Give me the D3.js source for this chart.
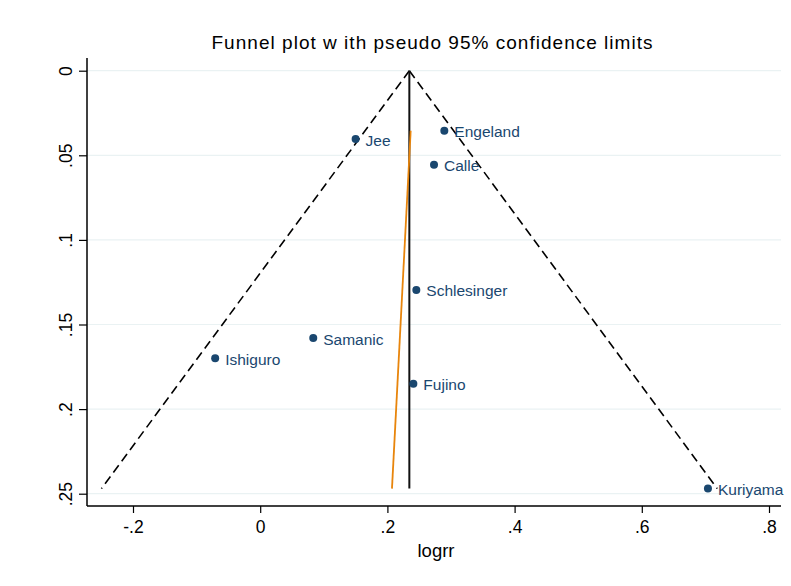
<!DOCTYPE html>
<html>
<head>
<meta charset="utf-8">
<script src="https://cdn.jsdelivr.net/npm/d3@7"></script>
<style>
  html, body { margin: 0; padding: 0; background: #fff; }
  svg { display: block; font-family: "Liberation Sans", Arial, sans-serif; }
</style>
</head>
<body>
<svg id="chart" width="791" height="586"></svg>
<script>
// Studies: log relative risk and its standard error
const studies = ["Engeland", "Jee", "Calle", "Schlesinger", "Samanic", "Ishiguro", "Fujino", "Kuriyama"];
const logrr   = [0.2895, 0.150, 0.2733, 0.2455, 0.0834, -0.0708, 0.2408, 0.704];
const se      = [0.0355, 0.0404, 0.0556, 0.1296, 0.158, 0.170, 0.185, 0.247];

// Pooled estimate and pseudo 95% limits (se from 0 to the largest se)
const pooled      = 0.2345;
const limitSE     = [0, 0.247];
const lowerLimit  = [0.2345, -0.2496];
const upperLimit  = [0.2345, 0.7186];

// Fitted regression line across the observed se range
const fitSE    = [0.0355, 0.247];
const fitLogrr = [0.2366, 0.2072];

const xTicks = [-0.2, 0, 0.2, 0.4, 0.6, 0.8];
const xTickLabels = ["-.2", "0", ".2", ".4", ".6", ".8"];
const yTicks = [0, 0.05, 0.1, 0.15, 0.2, 0.25];
const yTickLabels = ["0", ".05", ".1", ".15", ".2", ".25"];

const svg = d3.select("#chart");
const navy = "#1a476f";

const x = d3.scaleLinear().domain([-0.2, 0.8]).range([133, 769]);
const y = d3.scaleLinear().domain([0, 0.25]).range([70.7, 493.7]);

const plotLeft = 87, plotRight = 781, plotTop = 58, plotBottom = 506;

// Grid lines
svg.append("g")
  .selectAll("line")
  .data(yTicks)
  .join("line")
  .attr("x1", plotLeft).attr("x2", plotRight)
  .attr("y1", d => y(d)).attr("y2", d => y(d))
  .attr("stroke", "#eaf2f3").attr("stroke-width", 1.2);

// X axis
const xAxis = d3.axisBottom(x)
  .tickValues(xTicks)
  .tickFormat((d, i) => xTickLabels[i])
  .tickSize(7)
  .tickPadding(5);
const gx = svg.append("g").attr("transform", `translate(0,${plotBottom})`).call(xAxis);
gx.select(".domain").remove();
gx.append("line")
  .attr("x1", plotLeft).attr("x2", plotRight).attr("y1", 0).attr("y2", 0)
  .attr("stroke", "#000").attr("stroke-width", 1.5);
gx.selectAll(".tick line").attr("stroke", "#000").attr("stroke-width", 1.2);
gx.selectAll(".tick text")
  .attr("fill", "#000").attr("font-size", 17.5)
  .attr("font-family", "'Liberation Sans', Arial, sans-serif")
  .attr("dy", "0.85em");

// Y axis
const yAxis = d3.axisLeft(y)
  .tickValues(yTicks)
  .tickFormat((d, i) => yTickLabels[i])
  .tickSize(8);
const gy = svg.append("g").attr("transform", `translate(${plotLeft},0)`).call(yAxis);
gy.select(".domain").remove();
gy.append("line")
  .attr("x1", 0).attr("x2", 0).attr("y1", plotTop).attr("y2", plotBottom)
  .attr("stroke", "#000").attr("stroke-width", 1.5);
gy.selectAll(".tick line").attr("stroke", "#000").attr("stroke-width", 1.2);
gy.selectAll(".tick text")
  .attr("fill", "#000").attr("font-size", 17.5)
  .attr("font-family", "'Liberation Sans', Arial, sans-serif")
  .attr("x", null).attr("dy", null)
  .attr("text-anchor", "middle")
  .attr("transform", "translate(-15,0) rotate(-90)");

// Pseudo 95% confidence limits
const line = d3.line().x(d => x(d[0])).y(d => y(d[1]));
[lowerLimit, upperLimit].forEach(lim => {
  svg.append("path")
    .datum(lim.map((v, i) => [v, limitSE[i]]))
    .attr("d", line)
    .attr("fill", "none")
    .attr("stroke", "#000")
    .attr("stroke-width", 1.6)
    .attr("stroke-dasharray", "9,5");
});

// Pooled estimate
svg.append("path")
  .datum(limitSE.map(s => [pooled, s]))
  .attr("d", line)
  .attr("fill", "none")
  .attr("stroke", "#111")
  .attr("stroke-width", 2);

// Regression line
svg.append("path")
  .datum(fitSE.map((s, i) => [fitLogrr[i], s]))
  .attr("d", line)
  .attr("fill", "none")
  .attr("stroke", "#e8850c")
  .attr("stroke-width", 1.8);

// Study points and labels
const pts = studies.map((name, i) => ({ name, logrr: logrr[i], se: se[i] }));
svg.append("g")
  .selectAll("circle")
  .data(pts)
  .join("circle")
  .attr("cx", d => x(d.logrr))
  .attr("cy", d => y(d.se))
  .attr("r", 4)
  .attr("fill", navy);

svg.append("g")
  .selectAll("text")
  .data(pts)
  .join("text")
  .attr("x", d => x(d.logrr) + 10)
  .attr("y", d => y(d.se))
  .attr("dy", "0.42em")
  .attr("font-size", 15.5)
  .attr("fill", navy)
  .text(d => d.name);

// Title and axis title
svg.append("text")
  .attr("x", 432).attr("y", 49)
  .attr("text-anchor", "middle")
  .attr("font-size", 19)
  .attr("textLength", 441)
  .attr("lengthAdjust", "spacing")
  .attr("fill", "#000")
  .text("Funnel plot w ith pseudo 95% confidence limits");

svg.append("text")
  .attr("x", 436).attr("y", 557)
  .attr("text-anchor", "middle")
  .attr("font-size", 18.5)
  .attr("fill", "#000")
  .text("logrr");
</script>
</body>
</html>
